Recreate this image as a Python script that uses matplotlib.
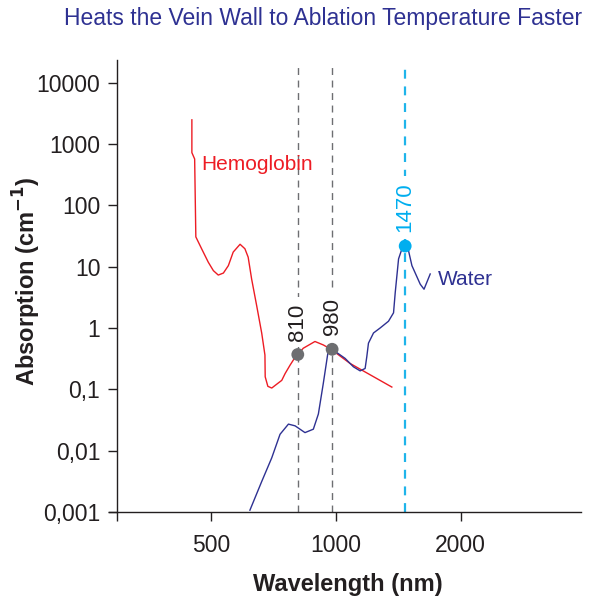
import numpy as np
import matplotlib
matplotlib.use("Agg")
from matplotlib import pyplot as plt
from matplotlib.ticker import FixedLocator, NullLocator

plt.rcParams['font.family'] = ['Liberation Sans', 'DejaVu Sans']

# hemoglobin absorption curve
hb_nm = [450, 450, 457, 460, 475, 493, 507, 521, 536, 551, 566, 588, 604, 615, 627,
         645, 663, 675, 676, 686, 701, 727, 741, 755, 776, 795, 835, 891, 933, 974,
         1083, 1365]
hb_abs = [2480, 724, 570, 30.6, 19.6, 11.8, 8.62, 7.30, 7.87, 10.4, 17.3, 23.2, 19.6,
          14.3, 6.27, 2.28, 0.827, 0.362, 0.16, 0.112, 0.105, 0.127, 0.140, 0.181,
          0.248, 0.320, 0.468, 0.603, 0.530, 0.450, 0.264, 0.109]

# water absorption curve
w_nm = [621, 663, 701, 734, 769, 798, 843, 883, 908, 933, 957, 980, 1053, 1103, 1145,
        1177, 1188, 1199, 1233, 1279, 1340, 1378, 1391, 1417, 1444, 1470, 1497, 1526,
        1598, 1632, 1689]
w_abs = [0.00107, 0.00314, 0.00764, 0.0185, 0.0271, 0.0254, 0.0197, 0.0224, 0.0396,
         0.124, 0.387, 0.45, 0.32, 0.233, 0.20, 0.219, 0.341, 0.566, 0.83, 1.0, 1.29,
         1.77, 3.78, 13.4, 19.6, 21.7, 18.4, 10.4, 5.18, 4.29, 7.6]

# laser wavelengths
laser_nm = [810, 980, 1470]
laser_abs = [0.37, 0.45, 21.7]
laser_lbl = ['810', '980', '1470']

y_ticks = [0.001, 0.01, 0.1, 1, 10, 100, 1000, 10000]
y_lbls = ['0,001', '0,01', '0,1', '1', '10', '100', '1000', '10000']
x_ticks = [500, 1000, 2000]
x_lbls = ['500', '1000', '2000']

red = '#ed1c24'
navy = '#2e3192'
cyan = '#1fb4ea'
grey = '#6d6e71'
ink = '#231f20'

W, H = 591, 598
fig = plt.figure(figsize=(W / 100, H / 100), dpi=100)
ax = fig.add_axes([117 / W, (H - 512) / H, (581 - 117) / W, (512 - 60) / H])

ax.set_xscale('log')
ax.set_yscale('log')
ax.set_xlim(297, 3900)
ax.set_ylim(0.001, 10 ** 4.37)

# dashed marker lines
for nm, c in zip(laser_nm, [grey, grey, cyan]):
    if c == cyan:
        ax.plot([nm, nm], [0.001, 10 ** 4.27], color=c, lw=1.6, dashes=(4, 3.5), zorder=1)
    else:
        ax.plot([nm, nm], [0.001, 10 ** 4.27], color=c, lw=1.0, dashes=(5, 4), zorder=1)

ax.plot(hb_nm, hb_abs, color=red, lw=1.0, zorder=2)
ax.plot(w_nm, w_abs, color=navy, lw=1.0, zorder=3)

ax.scatter(laser_nm, laser_abs, s=85, c=[grey, grey, '#00aeef'], zorder=4, linewidths=0)
for nm, a, t, c in zip(laser_nm, laser_abs, laser_lbl, [grey, grey, '#00aeef']):
    tc = ink if c == grey else c
    ax.annotate(t, (nm, a), xytext=(0, 10), textcoords='offset points', rotation=90,
                ha='center', va='bottom', fontsize=16, color=tc, zorder=1.5,
                bbox=dict(boxstyle='square,pad=0.3', fc='white', ec='none'))

ax.xaxis.set_major_locator(FixedLocator([297] + x_ticks))
ax.set_xticklabels([''] + x_lbls)
ax.xaxis.set_minor_locator(NullLocator())
ax.yaxis.set_major_locator(FixedLocator(y_ticks))
ax.set_yticklabels(y_lbls)
ax.yaxis.set_minor_locator(NullLocator())
ax.tick_params(axis='both', labelsize=16.5, length=6.5, width=1.0, color=ink,
               labelcolor=ink)
ax.tick_params(axis='y', pad=5.5)
ax.tick_params(axis='x', pad=9)
for s in ['top', 'right']:
    ax.spines[s].set_visible(False)
for s in ['left', 'bottom']:
    ax.spines[s].set_linewidth(1.0)
    ax.spines[s].set_color(ink)
ax.spines['bottom'].set_bounds(297 * 0.955, 3900)

fig.text(201.5 / W, 1 - 170 / H, 'Hemoglobin', color=red, fontsize=15, ha='left', va='baseline')
fig.text(438 / W, 1 - 285 / H, 'Water', color=navy, fontsize=15, ha='left', va='baseline')

fig.text(582 / W, 1 - 18 / H, 'Heats the Vein Wall to Ablation Temperature Faster',
         color=navy, fontsize=16.5, ha='right', va='center')
fig.text(348 / W, 1 - 584 / H, 'Wavelength (nm)', fontsize=17, fontweight='bold',
         ha='center', va='center', color=ink)
fig.text(27 / W, 1 - 281 / H, 'Absorption (cm$^{\\mathbf{-1}}$)', fontsize=17, fontweight='bold',
         rotation=90, ha='center', va='center', color=ink)

fig.savefig('out.png', dpi=100)
